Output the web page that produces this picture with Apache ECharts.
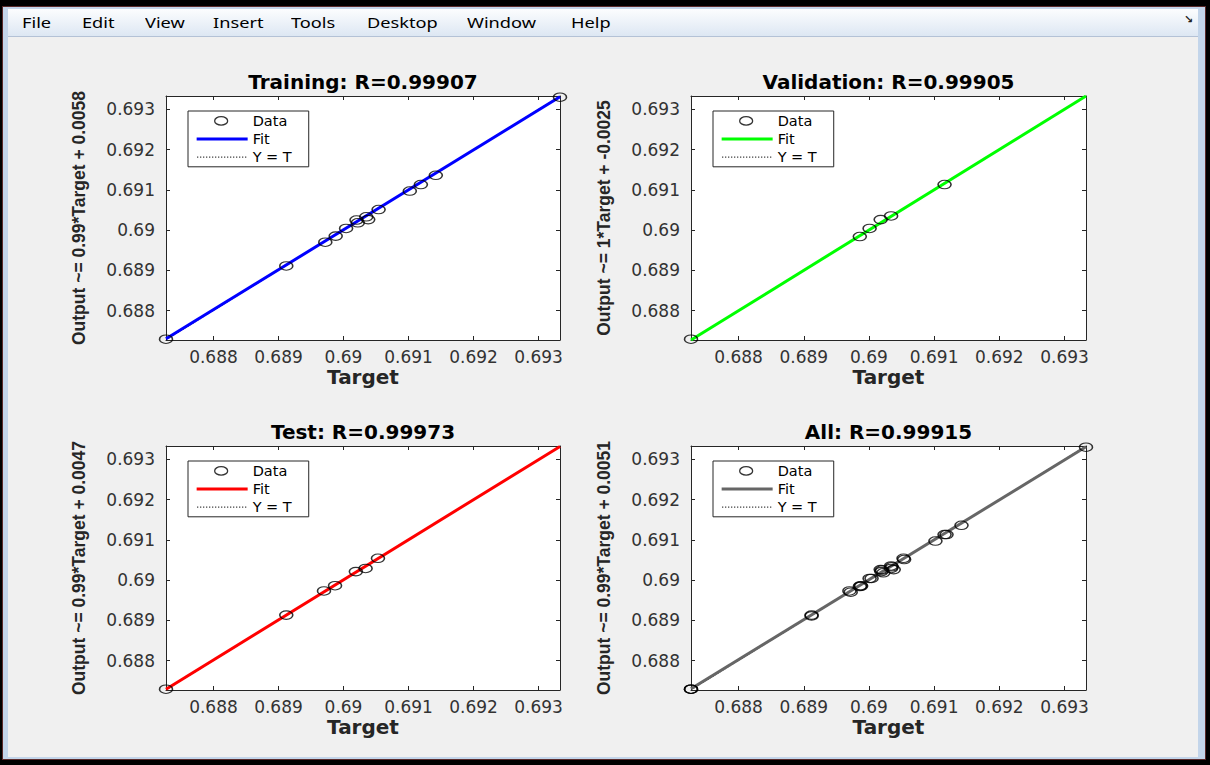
<!DOCTYPE html>
<html>
<head>
<meta charset="utf-8">
<script src="https://cdn.jsdelivr.net/npm/echarts@6/dist/echarts.min.js"></script>
<style>
html,body{margin:0;padding:0;width:1210px;height:765px;overflow:hidden;background:#000;}
#win{position:absolute;left:2px;top:6px;width:1204px;height:754px;background:#c3d5ea;border:1px solid #5a2a2a;box-sizing:border-box;}
#menu{position:absolute;left:8px;top:9px;width:1190px;height:27px;background:linear-gradient(#fcfdfe,#dde7f3);border-bottom:1px solid #b4c2d6;}
#content{position:absolute;left:8px;top:37px;width:1190px;height:720px;background:#f0f0f0;}
.mi{position:absolute;top:4px;font-family:'Noto Sans',sans-serif;font-size:14px;line-height:19px;color:#000;transform:scaleX(1.3);transform-origin:left center;white-space:nowrap;}
#undock{position:absolute;left:1176px;top:4px;font-family:'DejaVu Sans',sans-serif;font-size:11px;font-weight:bold;color:#222;}
#chart{position:absolute;left:0;top:0;width:1210px;height:765px;}
</style>
</head>
<body>
<div id="win"></div>
<div id="menu">
  <span class="mi" style="left:14px">File</span>
  <span class="mi" style="left:74px">Edit</span>
  <span class="mi" style="left:137px">View</span>
  <span class="mi" style="left:205px">Insert</span>
  <span class="mi" style="left:283px">Tools</span>
  <span class="mi" style="left:359px">Desktop</span>
  <span class="mi" style="left:459px">Window</span>
  <span class="mi" style="left:563px">Help</span>
  <span id="undock">↘</span>
</div>
<div id="content"></div>
<div id="chart"></div>
<script>
// ---------------- data ----------------
const axisMin = 0.68727;
const axisMax = 0.69333;
const tickValues = [0.688, 0.689, 0.690, 0.691, 0.692, 0.693];

const panelTitles = ['Training: R=0.99907', 'Validation: R=0.99905', 'Test: R=0.99973', 'All: R=0.99915'];
const yAxisNames = [
  'Output ~= 0.99*Target + 0.0058',
  'Output ~= 1*Target + -0.0025',
  'Output ~= 0.99*Target + 0.0047',
  'Output ~= 0.99*Target + 0.0051'
];
const xAxisName = 'Target';
const legendNames = ['Data', 'Fit', 'Y = T'];

// [target, output]
const trainingPoints = [
  [0.68727, 0.68729], [0.68912, 0.68911], [0.68972, 0.68970], [0.68988, 0.68985],
  [0.69004, 0.69004], [0.69020, 0.69025], [0.69022, 0.69018], [0.69035, 0.69033],
  [0.69038, 0.69026], [0.69054, 0.69051], [0.69102, 0.69097], [0.69119, 0.69113],
  [0.69142, 0.69136], [0.69333, 0.69330]
];
const validationPoints = [
  [0.68727, 0.68729], [0.68986, 0.68984], [0.69001, 0.69004], [0.69018, 0.69026],
  [0.69034, 0.69035], [0.69116, 0.69113]
];
const testPoints = [
  [0.68727, 0.68729], [0.68912, 0.68913], [0.68970, 0.68973], [0.68987, 0.68986],
  [0.69019, 0.69021], [0.69034, 0.69029], [0.69053, 0.69054]
];
const allPoints = trainingPoints.concat(validationPoints, testPoints);

// fit line end points [target, output]
const trainingFit = [[0.68727, 0.68730], [0.69333, 0.69331]];
const validationFit = [[0.68727, 0.68727], [0.69333, 0.69333]];
const testFit = [[0.68727, 0.68729], [0.69333, 0.69332]];
const allFit = [[0.68727, 0.68730], [0.69333, 0.69331]];

// ---------------- layout / style ----------------
const pointSets = [trainingPoints, validationPoints, testPoints, allPoints];
const fitSets = [trainingFit, validationFit, testFit, allFit];
const fitColors = ['#0000ff', '#00ff00', '#ff0000', '#666666'];
const grids = [
  {left: 166, top: 96, width: 394, height: 244},
  {left: 691, top: 96, width: 395, height: 244},
  {left: 166, top: 446, width: 394, height: 244},
  {left: 691, top: 446, width: 395, height: 244}
];
const axisColor = '#262626';
const ellipseSymbol = 'path://M0,5 A7,5 0 1,1 14,5 A7,5 0 1,1 0,5 Z';
// legend icons (51 x 14 boxes)
const ellipseIcon = 'path://M0,0 M51,14 M18,7 A6.5,4.25 0 1,1 31,7 A6.5,4.25 0 1,1 18,7 Z';
const solidLineIcon = 'path://M0,0 M51,14 M0,5.5 L51,5.5 L51,8.5 L0,8.5 Z';
let dottedLineIcon = 'path://M0,0 M51,14';
for (let x = 0.5; x < 51; x += 3) {
  dottedLineIcon += ' M' + x + ',6.5 L' + (x + 1.1) + ',6.5 L' + (x + 1.1) + ',7.6 L' + x + ',7.6 Z';
}
const fmt = v => String(parseFloat(v.toFixed(3)));

const option = {
  animation: false,
  title: [], grid: [], xAxis: [], yAxis: [], legend: [], series: []
};

grids.forEach((g, i) => {
  option.grid.push({left: g.left, top: g.top, width: g.width, height: g.height,
    show: true, backgroundColor: '#ffffff', borderWidth: 0, containLabel: false});
  option.title.push({
    text: panelTitles[i], left: g.left + g.width / 2, top: g.top - 24, textAlign: 'center', padding: 0,
    textStyle: {fontFamily: 'DejaVu Sans', fontWeight: 'bold', fontSize: 20, lineHeight: 20, color: '#000'}
  });
  const common = {
    type: 'value', gridIndex: i, min: axisMin, max: axisMax, splitLine: {show: false},
    axisLine: {show: true, lineStyle: {color: axisColor, width: 1}},
    axisTick: {show: true, inside: true, length: 4, customValues: tickValues, lineStyle: {color: axisColor}}
  };
  option.xAxis.push(Object.assign({}, common, {
    position: 'bottom', name: xAxisName, nameLocation: 'middle', nameGap: 27,
    nameTextStyle: {fontFamily: 'DejaVu Sans', fontWeight: 'bold', fontSize: 20, color: axisColor},
    axisLabel: {show: true, customValues: tickValues, formatter: fmt, margin: 8,
      fontFamily: 'DejaVu Sans', fontSize: 17, color: '#333'}
  }));
  option.xAxis.push(Object.assign({}, common, {position: 'top', axisLabel: {show: false}}));
  option.yAxis.push(Object.assign({}, common, {
    position: 'left', name: yAxisNames[i], nameLocation: 'middle', nameRotate: 90, nameGap: 78,
    nameTextStyle: {fontFamily: 'Liberation Sans', fontWeight: 'bold', fontSize: 17.5, color: axisColor},
    axisLabel: {show: true, customValues: tickValues, formatter: fmt, margin: 11,
      fontFamily: 'DejaVu Sans', fontSize: 17, color: '#333'}
  }));
  option.yAxis.push(Object.assign({}, common, {position: 'right', axisLabel: {show: false}}));

  const xi = 2 * i, yi = 2 * i;
  option.series.push({
    name: 'Y = T#' + i, type: 'line', xAxisIndex: xi, yAxisIndex: yi, symbol: 'none', z: 2,
    data: [[axisMin, axisMin], [axisMax, axisMax]],
    lineStyle: {type: 'dotted', color: '#000', width: 1}, itemStyle: {color: '#000'}
  });
  option.series.push({
    name: 'Fit#' + i, type: 'line', xAxisIndex: xi, yAxisIndex: yi, symbol: 'none', z: 3,
    data: fitSets[i], lineStyle: {color: fitColors[i], width: 3}, itemStyle: {color: fitColors[i]}
  });
  option.series.push({
    name: 'Data#' + i, type: 'scatter', xAxisIndex: xi, yAxisIndex: yi, z: 4, clip: false,
    symbol: ellipseSymbol, symbolSize: [13, 8.5], data: pointSets[i],
    itemStyle: {color: 'rgba(0,0,0,0)', borderColor: '#000', borderWidth: 1.3}
  });
  option.legend.push({
    left: g.left + 22, top: g.top + 15, orient: 'vertical', selectedMode: false,
    itemWidth: 51, itemHeight: 14, itemGap: 3, padding: [2.25, 17, 2.25, 8],
    borderColor: axisColor, borderWidth: 1, backgroundColor: '#ffffff',
    textStyle: {fontFamily: 'DejaVu Sans', fontSize: 14.5, lineHeight: 14.5, color: '#000'},
    formatter: n => n.split('#')[0],
    data: [
      {name: 'Data#' + i, icon: ellipseIcon,
        itemStyle: {color: 'rgba(0,0,0,0)', borderColor: '#000', borderWidth: 1.3}},
      {name: 'Fit#' + i, icon: solidLineIcon,
        itemStyle: {color: fitColors[i], borderWidth: 0}},
      {name: 'Y = T#' + i, icon: dottedLineIcon,
        itemStyle: {color: '#222', borderWidth: 0}}
    ]
  });
});

const chart = echarts.init(document.getElementById('chart'), null, {renderer: 'svg'});
chart.setOption(option);
</script>
</body>
</html>
